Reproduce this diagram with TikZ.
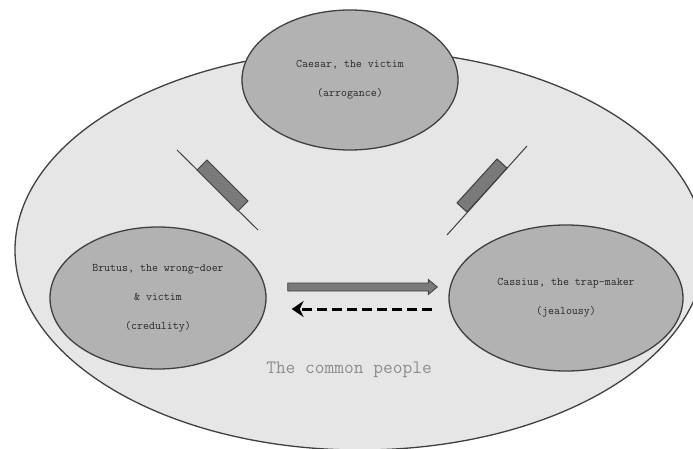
\documentclass[tikz,border=0pt]{standalone}
\usepackage{tikz}
\usetikzlibrary{shapes.geometric, arrows.meta, positioning, calc}
\definecolor{crowdgray}{RGB}{230, 230, 230}
\definecolor{rolegray}{RGB}{178, 178, 178}
\definecolor{blockgray}{RGB}{122, 122, 122}
\definecolor{edgegray}{RGB}{64, 64, 64}
\definecolor{labelgray}{RGB}{140, 140, 140}
\definecolor{textgray}{RGB}{40, 40, 40}

\begin{document}
\begin{tikzpicture}[x=1pt, y=1pt,
  role/.style={ellipse, draw=edgegray, line width=1.3pt, fill=rolegray, inner sep=0pt,
    align=center, text=textgray, font=\ttfamily\fontsize{11.6}{29}\selectfont},
  blockbar/.style={draw=edgegray, line width=1pt, fill=blockgray},
  blockline/.style={draw=edgegray, line width=1pt},
  fatarrow/.style={draw=edgegray, line width=0.8pt, fill=blockgray},
  backarrow/.style={black, line width=3pt, dash pattern=on 10pt off 5pt,
    -{Stealth[length=12pt, width=16pt]}}]
\useasboundingbox (0,0) rectangle (693,448);

% The common people
\node[ellipse, draw=edgegray, line width=1.3pt, fill=crowdgray, inner sep=0pt,
  minimum width=690, minimum height=400] (people) at (360,198) {};
\node[font=\ttfamily\fontsize{18.9}{20}\selectfont, text=labelgray] (crowd) at (349,78) {The common people};

% Caesar
\node[role, minimum width=216, minimum height=140] (caesar) at (350,368)
  {Caesar, the victim\\(arrogance)};

% Brutus
\node[role, minimum width=216, minimum height=142] (brutus) at (158,150)
  {Brutus, the wrong-doer\\\& victim\\(credulity)};

% Cassius
\node[role, minimum width=234, minimum height=146] (cassius) at (566,150)
  {Cassius, the trap-maker\\(jealousy)};

% Blocks between Caesar and the others
\draw[blockline] (177,298) -- (258,218);
\filldraw[blockbar] (197,278) -- (238,237) -- (248,247) -- (207,288) -- cycle;
\draw[blockline] (447,213) -- (527,302);
\filldraw[blockbar] (467,236) -- (507,280) -- (497,289) -- (457,245) -- cycle;

% Brutus -> Cassius
\coordinate (fs) at ([shift={(21,11)}]brutus.east);
\coordinate (fe) at ([shift={(-11,11)}]cassius.west);
\filldraw[fatarrow] ($(fs)+(0,4)$) -- ($(fe)+(-9,4)$) -- ($(fe)+(-9,7.5)$) -- (fe)
  -- ($(fe)+(-9,-7.5)$) -- ($(fe)+(-9,-4)$) -- ($(fs)+(0,-4)$) -- cycle;

% Cassius -> Brutus
\draw[backarrow, shorten <=16pt, shorten >=25pt] ([yshift=-11pt]cassius.west) -- ([yshift=-11pt]brutus.east);
\end{tikzpicture}
\end{document}
